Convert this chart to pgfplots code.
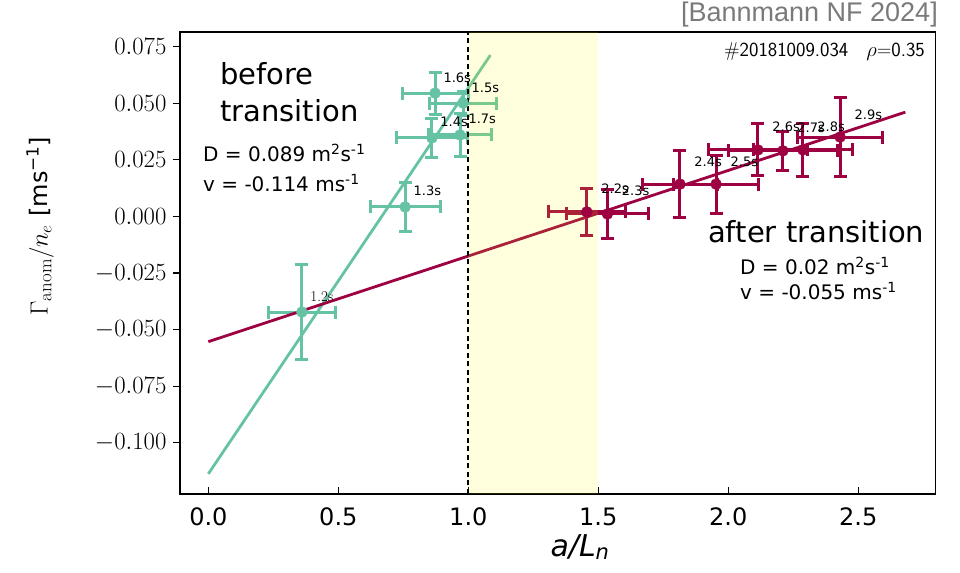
\documentclass[border=0pt]{standalone}
\usepackage{pgfplots}
\pgfplotsset{compat=1.18}
\usepackage{fontspec}
\newfontfamily\dejavu{DejaVu Sans}[ItalicFont={DejaVu Sans Oblique}]
\newfontfamily\arialf{Liberation Sans}
\newcommand{\fs}[1]{\fontsize{#1bp}{#1bp}\selectfont}
\definecolor{tealc}{HTML}{66C2A5}
\definecolor{crim}{HTML}{9E0142}
\definecolor{yel}{HTML}{FFFF00}
\definecolor{grayt}{HTML}{7A7A7A}
\begin{document}
\begin{tikzpicture}
\useasboundingbox (0,0) rectangle (960bp,573bp);
\begin{axis}[
  at={(180bp,79bp)}, anchor=south west,
  scale only axis, width=755.5bp, height=462bp,
  xmin=-0.109, xmax=2.797, ymin=-0.1226, ymax=0.0815,
  clip=false,
  axis line style={line width=1.6bp, black},
  tick align=outside, major tick length=7bp,
  xtick pos=left, ytick pos=left,
  x tick style={black, line width=1.2bp, yshift=7bp},
  y tick style={black, line width=1.2bp},
  xtick={0,0.5,1,1.5,2,2.5},
  xticklabels={0.0,0.5,1.0,1.5,2.0,2.5},
  xticklabel style={font=\dejavu\fs{24}, yshift=-3bp},
  ytick={-0.1,-0.075,-0.05,-0.025,0,0.025,0.05,0.075},
  yticklabels={$-0.100$,$-0.075$,$-0.050$,$-0.025$,$0.000$,$0.025$,$0.050$,$0.075$},
  yticklabel style={font=\fs{26}, xshift=-3bp},
  minor tick num=0,
]
% teal data
\addplot[only marks, mark=*, color=tealc, mark size=5.5bp,
  error bars/.cd, x dir=both, x explicit, y dir=both, y explicit,
  error mark=-,
  error bar style={line width=3bp, tealc},
  error mark options={rotate=90, line width=3bp, tealc, mark size=6.5bp}]
coordinates {
  (0.360,-0.0422) +- (0.129,0.0212)
  (0.757,0.0042) +- (0.135,0.0110)
  (0.860,0.0347) +- (0.135,0.0088)
  (0.980,0.0501) +- (0.130,0.0053)
  (0.872,0.0545) +- (0.127,0.0093)
  (0.968,0.0360) +- (0.123,0.0097)
};
% crimson data
\addplot[only marks, mark=*, color=crim, mark size=5.5bp,
  error bars/.cd, x dir=both, x explicit, y dir=both, y explicit,
  error mark=-,
  error bar style={line width=3bp, crim},
  error mark options={rotate=90, line width=3bp, crim, mark size=6.5bp}]
coordinates {
  (1.456,0.0020) +- (0.148,0.0102)
  (1.535,0.0011) +- (0.158,0.0108)
  (1.814,0.0143) +- (0.145,0.0148)
  (1.953,0.0143) +- (0.165,0.0128)
  (2.114,0.0294) +- (0.190,0.0115)
  (2.210,0.0290) +- (0.210,0.0085)
  (2.287,0.0294) +- (0.190,0.0117)
  (2.430,0.0351) +- (0.162,0.0174)
};
% fit lines
\addplot[tealc, line width=2.8bp] coordinates {(0,-0.1137) (1.085,0.0713)};
\addplot[crim, line width=2.8bp] coordinates {(0,-0.0553) (2.681,0.0461)};
% transition band
\addplot[draw=none, fill=yel, fill opacity=0.13] coordinates {(1,-0.1226) (1.5,-0.1226) (1.5,0.0815) (1,0.0815)} -- cycle;
\addplot[black, line width=2.2bp, dash pattern=on 5bp off 3.5bp] coordinates {(1,-0.1226) (1,0.0815)};
% time labels
\node[anchor=base west, xshift=5bp, yshift=11bp, font=\fs{15}] at (axis cs:0.360,-0.0422) {1.2s};
\begin{scope}[every node/.style={anchor=base west, xshift=5bp, yshift=11bp, font=\dejavu\fs{13}}]
\node at (axis cs:0.757,0.0042) {1.3s};
\node at (axis cs:0.860,0.0347) {1.4s};
\node at (axis cs:0.980,0.0501) {1.5s};
\node at (axis cs:0.872,0.0545) {1.6s};
\node at (axis cs:0.968,0.0360) {1.7s};
\end{scope}
\begin{scope}[every node/.style={anchor=base west, xshift=11bp, yshift=18bp, font=\dejavu\fs{13}}]
\node at (axis cs:1.456,0.0020) {2.2s};
\node at (axis cs:1.535,0.0011) {2.3s};
\node at (axis cs:1.814,0.0143) {2.4s};
\node at (axis cs:1.953,0.0143) {2.5s};
\node at (axis cs:2.114,0.0294) {2.6s};
\node at (axis cs:2.210,0.0290) {2.7s};
\node at (axis cs:2.287,0.0294) {2.8s};
\node at (axis cs:2.430,0.0351) {2.9s};
\end{scope}
\end{axis}
% annotations (page coordinates in bp)
\node[anchor=base west, inner sep=0pt, font=\dejavu\fs{29}] at (220bp,488bp) {before};
\node[anchor=base west, inner sep=0pt, font=\dejavu\fs{29}] at (220bp,451bp) {transition};
\node[anchor=base west, inner sep=0pt, font=\dejavu\fs{20}] at (203bp,411bp) {D = 0.089 m\textsuperscript{2}s\textsuperscript{-1}};
\node[anchor=base west, inner sep=0pt, font=\dejavu\fs{20}] at (203bp,381bp) {v = -0.114 ms\textsuperscript{-1}};
\node[anchor=base west, inner sep=0pt, font=\dejavu\fs{29}] at (708bp,330bp) {after transition};
\node[anchor=base west, inner sep=0pt, font=\dejavu\fs{20}] at (740bp,298bp) {D = 0.02 m\textsuperscript{2}s\textsuperscript{-1}};
\node[anchor=base west, inner sep=0pt, font=\dejavu\fs{20}] at (740bp,273bp) {v = -0.055 ms\textsuperscript{-1}};
\node[anchor=base east, inner sep=0pt, font=\sffamily\fs{20}] at (925bp,516bp) {\#20181009.034\hspace{0.9em}$\rho$=0.35};
\node[anchor=base east, inner sep=0pt, font=\arialf\fs{27}, text=grayt] at (938bp,551bp) {[Bannmann NF 2024]};
\node[rotate=90, inner sep=0pt, font=\fs{27}] at (40bp,347bp) {$\Gamma_\mathrm{anom}/n_e$ {\dejavu\fs{24}[ms\textsuperscript{−1}]}};
\node[anchor=base, inner sep=0pt, font=\dejavu\itshape\fs{30}] at (580bp,17bp) {a/L\textsubscript{n}};
\end{tikzpicture}
\end{document}
